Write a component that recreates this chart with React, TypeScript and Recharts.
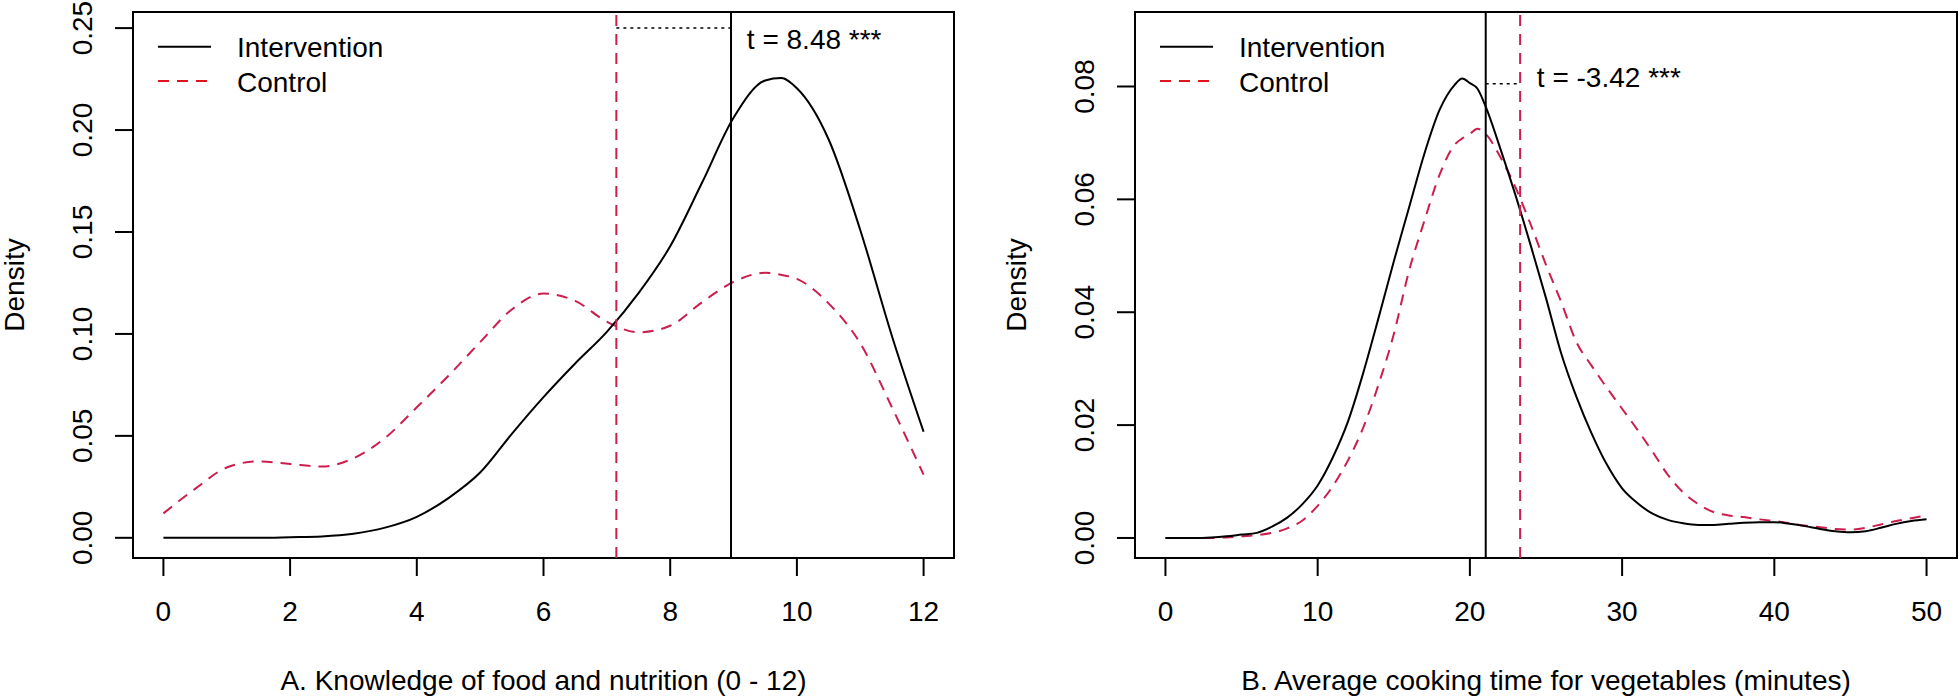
import React from 'react';
import { LineChart, Line, XAxis, YAxis, ReferenceLine, ReferenceArea, ReferenceDot, Label } from 'recharts';

const FONT = '"Liberation Sans", Arial, Helvetica, sans-serif';
const BLACK = '#000000';
const CRIMSON = '#CC1E4C';
const LEGEND_RED = '#E0141C';

// A. knowledge of food and nutrition
const knowledgeX = [0, 0.5, 1, 1.5, 2, 2.5, 3, 3.5, 4, 4.5, 5, 5.5, 6, 6.5, 7, 7.5, 8, 8.5, 9, 9.5, 9.75, 10, 10.5, 11, 11.5, 12];
const knowledgeIntervention = [0, 0, 0, 0, 0.0003, 0.0007, 0.002, 0.005, 0.0103, 0.0195, 0.032, 0.051, 0.069, 0.0855, 0.101, 0.12, 0.143, 0.174, 0.206, 0.2243, 0.2255, 0.2205, 0.1955, 0.151, 0.099, 0.052];
const knowledgeControl = [0.012, 0.024, 0.0345, 0.0375, 0.0362, 0.035, 0.039, 0.049, 0.064, 0.0795, 0.096, 0.112, 0.1198, 0.1162, 0.106, 0.1008, 0.104, 0.1155, 0.1255, 0.13, 0.129, 0.127, 0.115, 0.0954, 0.064, 0.031];
const knowledgeXTicks = [0, 2, 4, 6, 8, 10, 12];
const knowledgeYTicks = [0, 0.05, 0.1, 0.15, 0.2, 0.25];
const knowledgeMeans = [8.96, 7.15]; // intervention, control
const knowledgeT = 't = 8.48 ***';

// B. average cooking time for vegetables
const cookingX = [0, 1, 2, 3, 4, 5, 6, 7, 8, 9, 10, 11, 12, 13, 14, 15, 16, 17, 18, 19, 19.5, 20, 20.5, 21, 22, 23, 24, 25, 26, 27, 28, 29, 30, 31, 32, 33, 34, 35, 36, 37, 38, 39, 40, 41, 42, 43, 44, 45, 46, 47, 48, 49, 50];
const cookingIntervention = [0, 0, 0, 0.0001, 0.0003, 0.0006, 0.0009, 0.002, 0.0036, 0.006, 0.0093, 0.0143, 0.0207, 0.0293, 0.039, 0.049, 0.0585, 0.068, 0.0758, 0.0803, 0.0814, 0.0806, 0.0796, 0.0767, 0.069, 0.0607, 0.0518, 0.0425, 0.0327, 0.025, 0.0185, 0.013, 0.0088, 0.0062, 0.0043, 0.0032, 0.0026, 0.0023, 0.0023, 0.0025, 0.0027, 0.0028, 0.0028, 0.0025, 0.0021, 0.0016, 0.0012, 0.001, 0.0012, 0.0018, 0.0025, 0.003, 0.0033];
const cookingControl = [0, 0, 0, 0, 0.0001, 0.0003, 0.0005, 0.0009, 0.0017, 0.0031, 0.0057, 0.0092, 0.0138, 0.0196, 0.0272, 0.0361, 0.0473, 0.0561, 0.0643, 0.0697, 0.0708, 0.0716, 0.0725, 0.0717, 0.0675, 0.0621, 0.0555, 0.0484, 0.0418, 0.0347, 0.0305, 0.0266, 0.0229, 0.0192, 0.0153, 0.0112, 0.0081, 0.006, 0.0046, 0.004, 0.0037, 0.0033, 0.003, 0.0026, 0.0022, 0.0019, 0.0016, 0.0015, 0.0018, 0.0024, 0.003, 0.0035, 0.004];
const cookingXTicks = [0, 10, 20, 30, 40, 50];
const cookingYTicks = [0, 0.02, 0.04, 0.06, 0.08];
const cookingMeans = [21.04, 23.3];
const cookingT = 't = -3.42 ***';

const knowledgeData = knowledgeX.map((x, i) => ({ x, intervention: knowledgeIntervention[i], control: knowledgeControl[i] }));
const cookingData = cookingX.map((x, i) => ({ x, intervention: cookingIntervention[i], control: cookingControl[i] }));

const DASH = '11 8';

function XTick({ x, y, payload }: any) {
  return (
    <text x={x} y={y + 43} textAnchor="middle" fontFamily={FONT} fontSize={28} fill={BLACK}>
      {payload.value}
    </text>
  );
}

function YTick({ x, y, payload }: any) {
  const bx = x - 21;
  return (
    <text x={bx} y={y} transform={`rotate(-90, ${bx}, ${y})`} textAnchor="middle" fontFamily={FONT} fontSize={28} fill={BLACK}>
      {Number(payload.value).toFixed(2)}
    </text>
  );
}

function Legend({ left }: { left: number }) {
  return (
    <svg width={300} height={110} style={{ position: 'absolute', left, top: 0 }}>
      <line x1={0} x2={53} y1={46.7} y2={46.7} stroke={BLACK} strokeWidth={2} />
      <line x1={0} x2={53} y1={81} y2={81} stroke={LEGEND_RED} strokeWidth={2} strokeDasharray={DASH} />
      <text x={79} y={57.3} fontFamily={FONT} fontSize={28} fill={BLACK}>Intervention</text>
      <text x={79} y={91.7} fontFamily={FONT} fontSize={28} fill={BLACK}>Control</text>
    </svg>
  );
}

interface PanelProps {
  left: number;
  yAxisWidth: number;
  marginRight: number;
  data: any[];
  xDomain: [number, number];
  yDomain: [number, number];
  xTicks: number[];
  yTicks: number[];
  means: number[];
  tY: number;
  tLabel: string;
  tPos: [number, number];
  xTitle: string;
  legendLeft: number;
}

function Panel(p: PanelProps) {
  const [meanI, meanC] = p.means;
  return (
    <div style={{ position: 'absolute', left: p.left, top: 0, width: 980, height: 700 }}>
      <LineChart width={980} height={700} data={p.data} margin={{ top: 12, right: p.marginRight, bottom: 0, left: 0 }}>
        <XAxis
          type="number"
          dataKey="x"
          domain={p.xDomain}
          ticks={p.xTicks}
          allowDataOverflow
          height={142}
          axisLine={false}
          tickSize={18}
          tickLine={{ stroke: BLACK, strokeWidth: 2 }}
          tick={<XTick />}
        >
          <Label
            content={({ viewBox }: any) => (
              <text x={viewBox.x + viewBox.width / 2} y={viewBox.y + 131.5} textAnchor="middle" fontFamily={FONT} fontSize={28} fill={BLACK}>
                {p.xTitle}
              </text>
            )}
          />
        </XAxis>
        <YAxis
          type="number"
          domain={p.yDomain}
          ticks={p.yTicks}
          allowDataOverflow
          width={p.yAxisWidth}
          axisLine={false}
          tickSize={18}
          tickLine={{ stroke: BLACK, strokeWidth: 2 }}
          tick={<YTick />}
        >
          <Label
            content={({ viewBox }: any) => {
              const bx = viewBox.x + viewBox.width - 109.5;
              const cy = viewBox.y + viewBox.height / 2;
              return (
                <text x={bx} y={cy} transform={`rotate(-90, ${bx}, ${cy})`} textAnchor="middle" fontFamily={FONT} fontSize={28} fill={BLACK}>
                  Density
                </text>
              );
            }}
          />
        </YAxis>
        <ReferenceArea
          x1={p.xDomain[0]}
          x2={p.xDomain[1]}
          y1={p.yDomain[0]}
          y2={p.yDomain[1]}
          fill="none"
          fillOpacity={0}
          stroke={BLACK}
          strokeWidth={2}
          ifOverflow="visible"
        />
        <Line dataKey="control" type="monotone" stroke={CRIMSON} strokeWidth={2} strokeDasharray={DASH} dot={false} activeDot={false} isAnimationActive={false} />
        <Line dataKey="intervention" type="monotone" stroke={BLACK} strokeWidth={2} dot={false} activeDot={false} isAnimationActive={false} />
        <ReferenceLine x={meanC} stroke={CRIMSON} strokeWidth={2} strokeDasharray={DASH} />
        <ReferenceLine x={meanI} stroke={BLACK} strokeWidth={2} />
        <ReferenceLine
          segment={[{ x: Math.min(meanI, meanC), y: p.tY }, { x: Math.max(meanI, meanC), y: p.tY }]}
          stroke={BLACK}
          strokeWidth={1.5}
          strokeDasharray="3 4"
        />
        <ReferenceDot
          x={p.tPos[0]}
          y={p.tPos[1]}
          r={0}
          fill="none"
          stroke="none"
          label={({ viewBox }: any) => (
            <text x={viewBox.x} y={viewBox.y} dy="0.36em" textAnchor="start" fontFamily={FONT} fontSize={28} fill={BLACK}>
              {p.tLabel}
            </text>
          )}
        />
      </LineChart>
      <Legend left={p.legendLeft} />
    </div>
  );
}

export default function App() {
  return (
    <div style={{ position: 'absolute', left: 0, top: 0, width: 1960, height: 700, background: '#fff' }}>
      <Panel
        left={0}
        yAxisWidth={133}
        marginRight={26}
        data={knowledgeData}
        xDomain={[-0.48, 12.48]}
        yDomain={[-0.0099, 0.2579]}
        xTicks={knowledgeXTicks}
        yTicks={knowledgeYTicks}
        means={knowledgeMeans}
        tY={0.25}
        tLabel={knowledgeT}
        tPos={[9.21, 0.2446]}
        xTitle="A. Knowledge of food and nutrition (0 - 12)"
        legendLeft={158}
      />
      <Panel
        left={980}
        yAxisWidth={155}
        marginRight={3}
        data={cookingData}
        xDomain={[-2, 52]}
        yDomain={[-0.00355, 0.0932]}
        xTicks={cookingXTicks}
        yTicks={cookingYTicks}
        means={cookingMeans}
        tY={0.0805}
        tLabel={cookingT}
        tPos={[24.4, 0.0817]}
        xTitle="B. Average cooking time for vegetables (minutes)"
        legendLeft={180}
      />
    </div>
  );
}
